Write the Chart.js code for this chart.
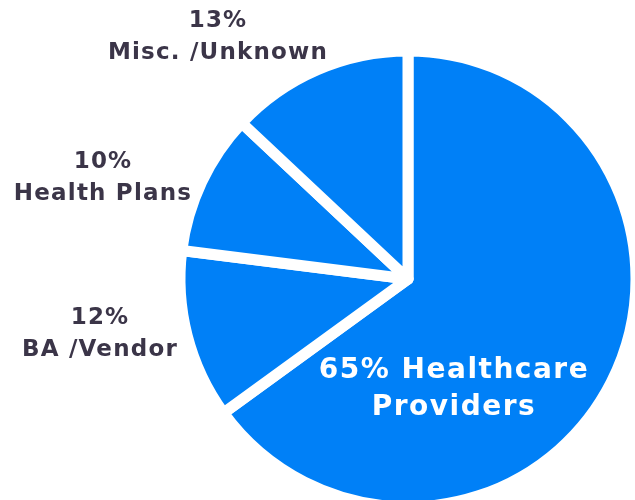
<!DOCTYPE html>
<html>
<head>
<meta charset="utf-8">
<script src="https://cdn.jsdelivr.net/npm/chart.js@4"></script>
<style>
  body { margin: 0; background: #fff; }
  canvas { display: block; }
</style>
</head>
<body>
<canvas id="pieChart" width="635" height="500"></canvas>
<script>
const categories = ['Healthcare Providers', 'BA /Vendor', 'Health Plans', 'Misc. /Unknown'];
const shares = [65, 12, 10, 13];

// label text lines and where each one sits (centre of the text block)
const labelLines = [
    ['65% Healthcare', 'Providers'],
    ['12%', 'BA /Vendor'],
    ['10%', 'Health Plans'],
    ['13%', 'Misc. /Unknown']
];
const labelCenters = [[454, 389], [100, 334], [103, 178], [218, 37]];

const labelPlugin = {
    id: 'sliceLabels',
    afterDraw(chart) {
        const ctx = chart.ctx;
        ctx.save();
        ctx.textAlign = 'center';
        ctx.textBaseline = 'middle';
        labelLines.forEach((lines, i) => {
            const inside = i === 0;
            const size = inside ? 28 : 23;
            const gap = inside ? 37 : 32;
            ctx.font = `bold ${size}px "DejaVu Sans", sans-serif`;
            ctx.letterSpacing = inside ? '1.5px' : '1.2px';
            ctx.fillStyle = inside ? '#ffffff' : '#3b3548';
            const [cx, cy] = labelCenters[i];
            const top = cy - gap * (lines.length - 1) / 2;
            lines.forEach((line, j) => ctx.fillText(line, cx, top + j * gap));
        });
        ctx.restore();
    }
};

new Chart(document.getElementById('pieChart'), {
    type: 'pie',
    data: {
        labels: categories,
        datasets: [{
            data: shares,
            backgroundColor: '#0080f7',
            borderColor: '#ffffff',
            borderWidth: 11,
            borderJoinStyle: 'round',
            radius: 228
        }]
    },
    options: {
        responsive: false,
        animation: false,
        layout: { padding: { left: 200, right: 19, top: 68, bottom: 10 } },
        plugins: {
            legend: { display: false },
            tooltip: { enabled: false }
        }
    },
    plugins: [labelPlugin]
});
</script>
</body>
</html>
